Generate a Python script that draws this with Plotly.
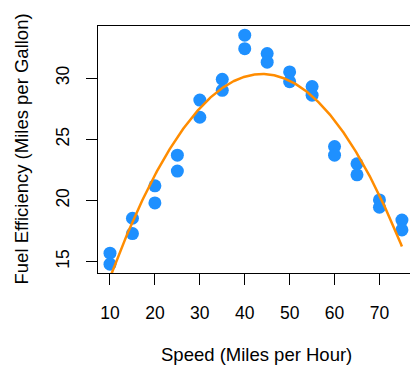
import numpy as np
import plotly.graph_objects as go

speed = [10, 10, 15, 15, 20, 20, 25, 25, 30, 30, 35, 35, 40, 40, 45, 45,
         50, 50, 55, 55, 60, 60, 65, 65, 70, 70, 75, 75]
mpg = [15.7, 14.8, 18.55, 17.3, 21.2, 19.8, 23.7, 22.4, 28.2, 26.8, 29.9, 29.0,
       33.5, 32.4, 32.0, 31.3, 30.5, 29.7, 29.3, 28.6, 24.4, 23.7, 23.0, 22.1,
       20.05, 19.45, 18.4, 17.6]
x_ticks = [10, 20, 30, 40, 50, 60, 70]
y_ticks = [15, 20, 25, 30]

coef = np.polyfit(speed, mpg, 2)
xs = np.linspace(10, 75, 300)
ys = np.polyval(coef, xs)

fig = go.Figure()
fig.add_trace(go.Scatter(x=speed, y=mpg, mode="markers",
                         marker=dict(color="#1E90FF", size=13, line=dict(width=0)),
                         cliponaxis=False, showlegend=False))
fig.add_trace(go.Scatter(x=xs, y=ys, mode="lines",
                         line=dict(color="#FF8C00", width=2.5), showlegend=False))

family = "Liberation Sans, Arial, sans-serif"
tick_font = dict(family=family, size=17.5, color="black")
title_font = dict(family=family, size=18.5, color="black")
fig.update_layout(
    width=410, height=365,
    margin=dict(l=98, r=0, t=26, b=92),
    plot_bgcolor="white", paper_bgcolor="white",
    font=tick_font,
    xaxis=dict(range=[7.33, 76.8], tickvals=x_ticks, ticks="outside", ticklen=11,
               tickwidth=1, tickcolor="black", showline=True, linecolor="black",
               linewidth=1, mirror=True, showgrid=False, zeroline=False,
               ticklabelstandoff=13, tickfont=tick_font),
    yaxis=dict(range=[14.08, 34.25], tickvals=y_ticks, ticks="outside", ticklen=11,
               tickwidth=1, tickcolor="black", showline=True, linecolor="black",
               linewidth=1, showgrid=False, zeroline=False, tickangle=-90,
               ticklabelstandoff=10, tickfont=tick_font),
)
fig.add_annotation(text="Speed (Miles per Hour)", xref="paper", yref="paper",
                   x=(256 - 98) / 312, y=-(354 - 273) / 247, showarrow=False,
                   font=title_font, xanchor="center", yanchor="middle")
fig.add_annotation(text="Fuel Efficiency (Miles per Gallon)", xref="paper", yref="paper",
                   x=-(98 - 21) / 312, y=0.5, showarrow=False, textangle=-90,
                   font=title_font, xanchor="center", yanchor="middle")
fig.write_html("out.html", config={"displayModeBar": False},
               post_script="document.body.style.margin='0';document.body.style.overflow='hidden';")
